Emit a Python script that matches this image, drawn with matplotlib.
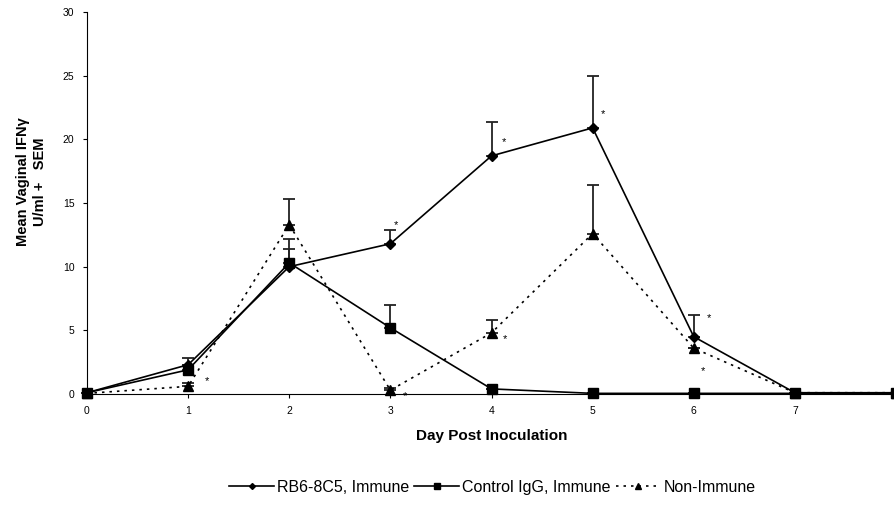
import matplotlib.pyplot as plt
import numpy as np

plt.rcParams['font.family'] = ['Liberation Sans', 'DejaVu Sans']

days = [0, 1, 2, 3, 4, 5, 6, 7, 8]

# RB6-8C5, Immune
rb6_mean = [0.1, 2.3, 10.0, 11.8, 18.7, 20.9, 4.5, 0.1, 0.1]
rb6_sem = [0, 0.5, 1.4, 1.1, 2.7, 4.1, 1.7, 0, 0]

# Control IgG, Immune
igg_mean = [0.1, 1.9, 10.3, 5.2, 0.4, 0.05, 0.05, 0.05, 0.05]
igg_sem = [0, 0.4, 1.9, 1.8, 0, 0, 0, 0, 0]

# Non-Immune
non_mean = [0.05, 0.6, 13.3, 0.3, 4.8, 12.6, 3.6, 0.1, 0.1]
non_sem = [0, 0.3, 2.0, 0.2, 1.0, 3.8, 0, 0, 0]

# significance stars
star_x = [1.19, 3.06, 3.14, 4.12, 4.13, 5.1, 6.15, 6.09]
star_y = [1.0, 13.3, -0.2, 19.8, 4.3, 22.0, 6.0, 1.8]

fig = plt.figure(figsize=(8.94, 5.16), dpi=100)
ax = fig.add_axes([87/894, 122/516, 809/894, 382/516])

def series(mean, sem, marker, ls, ms, label):
    mean = np.array(mean)
    err = np.array(sem)
    ax.errorbar(days, mean, yerr=[np.zeros_like(err), err], fmt='none',
                ecolor='#222222', elinewidth=1.3, capsize=4, capthick=1.3,
                clip_on=False, zorder=2)
    ax.plot(days, mean, color='black', linestyle=ls, linewidth=1.2,
            marker=marker, markersize=ms, label=label, clip_on=False, zorder=3)

series(rb6_mean, rb6_sem, 'D', '-', 5, 'RB6-8C5, Immune')
series(igg_mean, igg_sem, 's', '-', 7, 'Control IgG, Immune')
series(non_mean, non_sem, '^', (0, (1.5, 3)), 7, 'Non-Immune')

for x, y in zip(star_x, star_y):
    ax.text(x, y, '*', fontsize=8, ha='center', va='center')

ax.set_xlim(0, 8)
ax.set_ylim(0, 30)
ax.set_xticks(range(0, 9))
ax.set_yticks(range(0, 31, 5))
ax.tick_params(labelsize=7.5, length=3, width=0.8)
ax.tick_params(axis='x', pad=6)
ax.tick_params(axis='y', pad=6)
ax.spines['top'].set_visible(False)
ax.spines['right'].set_visible(False)
ax.spines['left'].set_linewidth(0.8)
ax.spines['bottom'].set_linewidth(0.8)

ax.set_xlabel('Day Post Inoculation', fontsize=11, fontweight='bold', labelpad=9)
ax.set_ylabel('Mean Vaginal IFN\u03b3\nU/ml +   SEM', fontsize=10.5,
              fontweight='bold')
ax.yaxis.set_label_coords(-0.05, 0.555)

fig.legend(loc='center', bbox_to_anchor=(0.551, 0.056), ncol=3, frameon=False,
           fontsize=11.5, handlelength=2.8, columnspacing=0.3, handletextpad=0.2,
           markerscale=0.6)

fig.savefig('out.png', dpi=100)
